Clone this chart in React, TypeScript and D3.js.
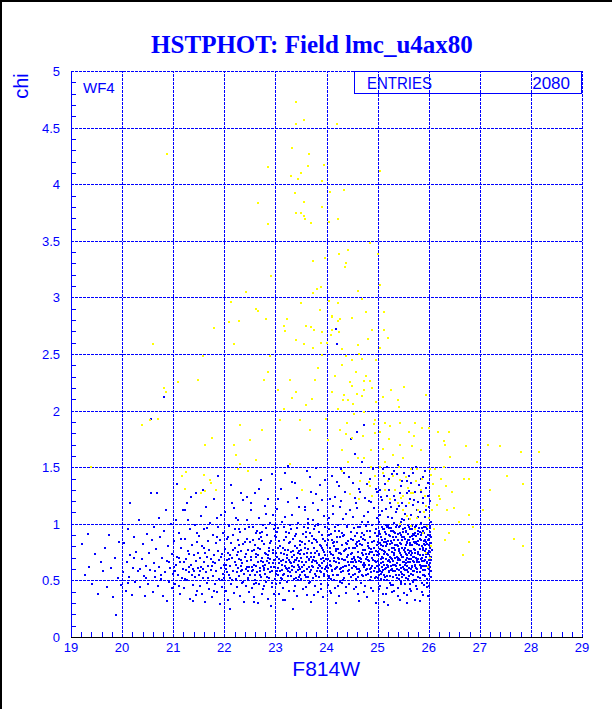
import React from "react";
import * as d3 from "d3";

const WIDTH = 612;
const HEIGHT = 709;
const BLUE = "#0000ff";
const YELLOW = "#ffff00";

const TITLE = "HSTPHOT: Field lmc_u4ax80";
const X_TITLE = "F814W";
const Y_TITLE = "chi";
const X_TICKS = [19, 20, 21, 22, 23, 24, 25, 26, 27, 28, 29];
const Y_TICKS = [0, 0.5, 1, 1.5, 2, 2.5, 3, 3.5, 4, 4.5, 5];
const ENTRIES = "2080";

// blue points (F814W, chi), one array per magnitude band
const blue19 = [19.22,0.82, 19.28,0.55, 19.35,0.62, 19.41,0.47, 19.46,0.73, 19.33,0.91, 19.53,0.38, 19.58,0.66, 19.62,0.58, 19.66,0.79, 19.71,0.44, 19.74,0.90, 19.79,0.61, 19.83,0.35, 19.86,0.70, 19.91,0.52, 19.94,0.84, 19.97,0.46, 19.89,0.19];
const blue20 = [20.02,0.57, 20.04,0.83, 20.07,0.41, 20.09,0.66, 20.11,0.95, 20.14,0.53, 20.16,0.72, 20.19,0.37, 20.21,0.61, 20.24,0.88, 20.26,0.49, 20.28,0.75, 20.31,0.58, 20.33,1.03, 20.36,0.44, 20.38,0.69, 20.40,0.82, 20.42,0.54, 20.44,0.36, 20.46,0.63, 20.48,0.91, 20.12,0.48, 20.23,0.70, 20.35,0.60, 20.47,0.52, 20.15,1.18,
  20.51,0.47, 20.53,0.74, 20.55,0.59, 20.57,1.27, 20.58,0.86, 20.60,0.40, 20.62,0.65, 20.63,0.97, 20.65,0.53, 20.67,0.78, 20.68,1.27, 20.70,0.45, 20.72,0.62, 20.73,1.05, 20.75,0.88, 20.77,0.51, 20.79,0.70, 20.80,0.36, 20.82,0.94, 20.84,0.57, 20.85,1.12, 20.87,0.67, 20.88,0.32, 20.90,0.80, 20.92,0.49, 20.93,0.61, 20.95,1.00, 20.97,0.43, 20.98,0.73, 20.99,0.56, 20.56,1.93, 20.82,2.12, 20.64,0.58, 20.76,0.55, 20.91,0.66];
const blue21 = [21.01,0.62, 21.02,0.85, 21.04,0.47, 21.05,1.03, 21.07,1.35, 21.08,0.71, 21.10,0.55, 21.11,0.92, 21.13,0.38, 21.14,0.66, 21.16,0.79, 21.17,0.52, 21.19,1.12, 21.20,0.60, 21.22,0.43, 21.23,0.87, 21.24,1.12, 21.26,0.69, 21.27,0.50, 21.28,1.03, 21.29,0.76, 21.31,0.57, 21.32,0.95, 21.33,0.34, 21.34,1.24, 21.35,0.64, 21.37,0.81, 21.38,0.46, 21.39,0.32, 21.40,0.72, 21.41,0.58, 21.42,0.99, 21.43,0.53, 21.44,1.27, 21.45,0.67, 21.46,0.41, 21.47,0.84, 21.48,0.61, 21.49,0.74, 21.03,0.58, 21.12,0.70, 21.21,0.66, 21.30,0.62, 21.36,0.55, 21.25,0.59,
  21.50,0.55, 21.51,0.89, 21.52,0.45, 21.53,0.70, 21.54,1.07, 21.55,0.62, 21.56,0.38, 21.57,0.80, 21.58,0.52, 21.60,0.95, 21.61,0.66, 21.62,0.31, 21.63,0.74, 21.64,0.57, 21.65,1.15, 21.66,0.48, 21.68,0.85, 21.69,0.63, 21.70,0.42, 21.71,0.77, 21.72,1.01, 21.73,0.59, 21.74,0.69, 21.76,0.35, 21.77,0.90, 21.78,0.54, 21.79,0.72, 21.80,1.22, 21.81,0.47, 21.82,0.65, 21.83,0.83, 21.84,0.58, 21.85,0.40, 21.87,1.42, 21.87,0.76, 21.88,0.97, 21.89,0.51, 21.90,0.68, 21.91,0.29, 21.92,0.86, 21.93,0.61, 21.94,1.08, 21.95,0.44, 21.96,0.73, 21.97,0.56, 21.98,0.92, 21.99,0.64, 21.59,0.60, 21.67,0.71, 21.75,0.63,
  21.06,0.64, 21.15,0.87, 21.23,0.51, 21.31,0.73, 21.39,0.60, 21.47,0.92, 21.53,0.58, 21.61,0.79, 21.69,0.52, 21.77,0.66, 21.85,0.88, 21.93,0.71, 21.27,1.18, 21.58,1.30, 21.86,1.05, 21.44,0.37, 21.80,0.41, 21.12,0.45, 21.66,0.96, 21.96,0.50];
const blue22 = [22.00,0.52, 22.01,0.78, 22.02,1.10, 22.03,0.60, 22.04,0.41, 22.05,0.87, 22.06,0.68, 22.07,0.33, 22.08,0.74, 22.09,0.55, 22.10,0.98, 22.11,0.25, 22.12,0.63, 22.13,1.34, 22.13,0.83, 22.14,0.47, 22.15,0.70, 22.16,1.18, 22.17,0.58, 22.18,0.90, 22.19,1.14, 22.19,0.39, 22.20,0.66, 22.21,0.79, 22.22,0.51, 22.23,1.05, 22.24,0.72, 22.25,0.44, 22.26,0.61, 22.27,1.03, 22.27,0.86, 22.28,0.54, 22.29,0.69, 22.30,0.36, 22.31,0.93, 22.32,0.58, 22.33,1.27, 22.33,0.76, 22.34,0.48, 22.35,0.65, 22.36,1.21, 22.37,0.82, 22.38,0.56, 22.39,0.31, 22.40,0.71, 22.41,0.95, 22.42,0.60, 22.43,0.45, 22.44,0.87, 22.45,1.03, 22.45,0.67, 22.46,0.52, 22.47,0.77, 22.48,0.40, 22.49,0.62, 22.05,0.57, 22.15,0.50, 22.22,0.64, 22.35,0.59, 22.42,0.73, 22.26,0.75, 22.09,0.69, 22.47,0.58,
  22.50,0.84, 22.51,0.55, 22.52,1.12, 22.53,0.68, 22.54,0.43, 22.55,0.76, 22.56,0.59, 22.57,0.97, 22.58,0.35, 22.59,0.64, 22.60,0.81, 22.61,1.27, 22.61,0.50, 22.62,0.71, 22.63,0.92, 22.64,0.57, 22.65,0.30, 22.66,0.66, 22.67,1.05, 22.68,0.47, 22.69,0.78, 22.70,0.61, 22.71,1.39, 22.71,0.88, 22.72,0.53, 22.73,0.70, 22.74,0.38, 22.75,0.99, 22.76,0.63, 22.77,0.45, 22.78,0.82, 22.79,1.16, 22.80,0.56, 22.81,0.73, 22.82,0.49, 22.83,0.90, 22.84,0.67, 22.85,1.22, 22.85,0.34, 22.86,0.60, 22.87,0.79, 22.88,0.52, 22.89,1.01, 22.90,0.69, 22.91,0.27, 22.92,0.85, 22.93,0.58, 22.94,0.44, 22.95,0.74, 22.96,1.08, 22.97,0.62, 22.98,0.95, 22.99,0.51, 22.55,0.62, 22.60,0.55, 22.65,0.72, 22.70,0.58, 22.75,0.66, 22.80,0.64, 22.85,0.72, 22.90,0.57, 22.95,0.65, 22.58,0.77, 22.68,0.87, 22.78,0.59, 22.88,0.76, 22.98,0.68, 22.63,0.48, 22.73,0.93];
const blue23 = [23.00,0.62, 23.01,0.88, 23.02,0.47, 23.03,1.13, 23.04,0.71, 23.05,0.55, 23.06,0.96, 23.07,0.38, 23.08,0.65, 23.09,0.80, 23.10,1.31, 23.10,0.52, 23.11,0.74, 23.12,0.59, 23.13,1.02, 23.14,0.43, 23.15,0.68, 23.16,0.86, 23.17,0.56, 23.18,1.45, 23.18,0.33, 23.19,0.77, 23.20,0.61, 23.21,0.93, 23.22,0.49, 23.23,0.70, 23.24,1.19, 23.25,0.58, 23.26,0.83, 23.27,0.41, 23.28,0.66, 23.29,0.99, 23.30,0.54, 23.31,0.75, 23.32,1.08, 23.33,0.63, 23.34,0.25, 23.35,0.87, 23.36,0.51, 23.37,0.72, 23.38,1.36, 23.38,0.45, 23.39,0.68, 23.40,0.91, 23.41,0.57, 23.42,1.23, 23.42,0.79, 23.43,0.36, 23.44,0.64, 23.45,1.01, 23.46,0.53, 23.47,0.76, 23.48,0.60, 23.49,0.85, 23.03,0.58, 23.07,0.69, 23.12,0.64, 23.16,0.73, 23.21,0.66, 23.25,0.77, 23.29,0.57, 23.33,0.71, 23.37,0.62, 23.41,0.68, 23.45,0.59, 23.48,0.73, 23.05,0.79, 23.14,0.55, 23.23,0.60, 23.31,0.65, 23.39,0.80, 23.47,0.67, 23.09,0.48, 23.27,0.92, 23.44,0.50,
  23.50,0.70, 23.51,0.51, 23.52,1.30, 23.52,0.84, 23.53,0.62, 23.54,0.42, 23.55,0.97, 23.56,0.73, 23.57,0.55, 23.58,1.12, 23.59,0.66, 23.60,0.88, 23.61,0.37, 23.62,0.60, 23.63,1.04, 23.64,0.78, 23.65,0.48, 23.66,0.69, 23.67,1.41, 23.67,0.92, 23.68,0.57, 23.69,0.74, 23.70,0.31, 23.71,0.83, 23.72,0.63, 23.73,1.18, 23.74,0.52, 23.75,0.71, 23.76,0.95, 23.77,0.45, 23.78,0.67, 23.79,1.26, 23.80,0.86, 23.81,0.58, 23.82,0.76, 23.83,0.40, 23.84,1.00, 23.85,0.64, 23.86,0.53, 23.87,0.81, 23.88,1.34, 23.89,0.69, 23.90,0.47, 23.91,0.90, 23.92,0.61, 23.93,0.35, 23.94,0.77, 23.95,1.07, 23.96,0.56, 23.97,0.72, 23.98,0.85, 23.99,0.62, 23.53,0.66, 23.57,0.79, 23.61,0.71, 23.65,0.62, 23.69,0.59, 23.73,0.68, 23.77,0.74, 23.81,0.65, 23.85,0.73, 23.89,0.57, 23.93,0.70, 23.97,0.60, 23.55,0.58, 23.63,0.53, 23.71,0.66, 23.79,0.54, 23.87,0.63, 23.95,0.67, 23.59,0.93, 23.75,0.87, 23.91,0.79, 23.83,0.99, 23.64,1.01, 23.80,1.49];
const blue24 = [24.00,0.58, 24.01,0.81, 24.02,1.01, 24.02,0.46, 24.03,0.69, 24.04,0.90, 24.05,0.54, 24.06,0.75, 24.07,1.22, 24.08,0.63, 24.09,0.39, 24.10,0.86, 24.11,0.59, 24.12,0.72, 24.13,1.09, 24.14,0.50, 24.15,0.67, 24.16,0.94, 24.17,0.43, 24.18,0.78, 24.19,0.61, 24.20,1.37, 24.20,0.84, 24.21,0.55, 24.22,0.70, 24.23,0.99, 24.24,0.36, 24.25,0.65, 24.26,0.88, 24.27,1.15, 24.28,0.57, 24.29,0.73, 24.30,0.48, 24.31,0.92, 24.32,0.62, 24.33,1.04, 24.34,0.76, 24.35,0.52, 24.36,0.68, 24.37,1.28, 24.38,0.83, 24.39,0.44, 24.40,0.71, 24.41,0.97, 24.42,0.58, 24.43,1.55, 24.44,0.79, 24.45,0.64, 24.46,1.12, 24.47,0.53, 24.48,0.87, 24.49,0.69, 24.03,0.61, 24.06,0.64, 24.09,0.73, 24.12,0.55, 24.15,0.80, 24.18,0.66, 24.21,0.62, 24.24,0.74, 24.27,0.60, 24.30,0.69, 24.33,0.58, 24.36,0.77, 24.39,0.63, 24.42,0.72, 24.45,0.56, 24.48,0.66, 24.05,0.95, 24.14,0.84, 24.23,0.78, 24.32,0.89, 24.41,0.82, 24.08,0.51, 24.26,0.49, 24.44,0.47, 24.19,2.72, 24.20,2.59, 24.35,1.45, 24.11,1.42, 24.29,1.20,
  24.50,0.74, 24.51,0.55, 24.52,1.06, 24.52,0.86, 24.53,0.63, 24.54,0.42, 24.55,0.79, 24.56,0.68, 24.57,1.18, 24.58,0.51, 24.59,0.92, 24.60,1.81, 24.60,0.60, 24.61,0.75, 24.62,0.38, 24.63,0.85, 24.64,1.31, 24.64,0.57, 24.65,0.70, 24.66,0.97, 24.67,0.48, 24.68,0.66, 24.69,1.02, 24.70,0.81, 24.71,0.54, 24.72,0.72, 24.73,1.87, 24.73,0.62, 24.74,0.90, 24.75,0.45, 24.76,1.23, 24.76,0.77, 24.77,0.59, 24.78,0.69, 24.79,0.94, 24.80,0.35, 24.81,0.83, 24.82,1.10, 24.82,0.56, 24.83,0.73, 24.84,0.64, 24.85,0.88, 24.86,1.40, 24.86,0.50, 24.87,0.78, 24.88,0.61, 24.89,0.99, 24.90,0.70, 24.91,0.41, 24.92,0.85, 24.93,1.14, 24.93,0.58, 24.94,0.67, 24.95,0.92, 24.96,0.53, 24.97,0.76, 24.98,1.05, 24.99,0.63, 24.51,0.66, 24.54,0.71, 24.57,0.62, 24.60,0.80, 24.63,0.67, 24.66,0.58, 24.69,0.74, 24.72,0.87, 24.75,0.64, 24.78,0.55, 24.81,0.68, 24.84,0.79, 24.87,0.57, 24.90,0.63, 24.93,0.72, 24.96,0.66, 24.99,0.81, 24.53,0.96, 24.58,0.82, 24.62,0.53, 24.67,0.88, 24.71,0.64, 24.77,0.98, 24.80,0.71, 24.85,0.60, 24.89,0.75, 24.94,0.52, 24.98,0.89, 24.70,1.55, 24.55,1.62, 24.48,1.75, 24.65,1.28, 24.79,1.35, 24.91,1.48, 24.84,1.20];
const blue25 = [25.00,0.67, 25.01,0.84, 25.01,0.52, 25.02,1.02, 25.03,0.73, 25.03,0.60, 25.04,0.91, 25.05,0.45, 25.05,0.78, 25.06,1.24, 25.07,0.65, 25.07,0.56, 25.08,0.86, 25.09,0.71, 25.09,1.11, 25.10,0.59, 25.11,0.38, 25.11,0.80, 25.12,0.95, 25.13,0.64, 25.13,0.50, 25.14,0.75, 25.15,1.35, 25.15,0.87, 25.16,0.61, 25.17,0.69, 25.17,0.99, 25.18,0.54, 25.19,0.82, 25.19,0.43, 25.20,0.72, 25.21,1.06, 25.21,0.63, 25.22,0.90, 25.23,0.57, 25.23,0.77, 25.24,1.18, 25.25,0.66, 25.25,0.48, 25.26,0.85, 25.27,0.70, 25.27,0.94, 25.28,0.60, 25.29,1.44, 25.29,0.79, 25.30,0.53, 25.31,0.88, 25.31,0.67, 25.32,1.01, 25.33,0.74, 25.33,0.41, 25.34,0.58, 25.35,0.92, 25.35,0.81, 25.36,0.63, 25.37,1.13, 25.37,0.71, 25.38,0.52, 25.39,0.86, 25.39,0.36, 25.40,0.68, 25.41,0.97, 25.41,0.76, 25.42,0.59, 25.43,1.27, 25.43,0.83, 25.44,0.64, 25.45,0.47, 25.45,0.90, 25.46,0.72, 25.47,1.04, 25.47,0.56, 25.48,0.79, 25.49,0.66, 25.49,0.95,
  25.02,0.64, 25.04,0.58, 25.06,0.81, 25.08,0.62, 25.10,0.70, 25.12,0.76, 25.14,0.60, 25.16,0.84, 25.18,0.73, 25.20,0.62, 25.22,0.68, 25.24,0.82, 25.26,0.59, 25.28,0.75, 25.30,0.64, 25.32,0.79, 25.34,0.70, 25.36,0.88, 25.38,0.65, 25.40,0.80, 25.42,0.69, 25.44,0.74, 25.46,0.61, 25.48,0.86, 25.03,0.94, 25.08,0.97, 25.14,0.93, 25.20,0.98, 25.26,0.96, 25.32,0.93, 25.38,0.99, 25.44,0.98, 25.06,0.51, 25.12,0.55, 25.18,0.50, 25.24,0.54, 25.30,0.46, 25.36,0.55, 25.42,0.51, 25.48,0.53, 25.05,1.30, 25.22,1.40, 25.34,1.21, 25.46,1.33, 25.10,1.48, 25.27,1.15, 25.40,1.52, 25.12,0.31, 25.28,0.40, 25.44,0.33, 24.98,1.28, 25.18,1.25, 25.32,1.47];
const blue26 = [25.50,0.71, 25.51,0.88, 25.51,0.55, 25.52,1.03, 25.53,0.64, 25.53,0.79, 25.54,0.47, 25.55,0.93, 25.55,0.68, 25.56,1.16, 25.57,0.59, 25.57,0.83, 25.58,0.72, 25.59,0.99, 25.59,0.51, 25.60,0.66, 25.61,1.29, 25.61,0.86, 25.62,0.61, 25.63,0.76, 25.63,0.42, 25.64,0.95, 25.65,0.69, 25.65,0.56, 25.66,1.08, 25.67,0.81, 25.67,0.63, 25.68,0.74, 25.69,0.91, 25.69,0.49, 25.70,0.67, 25.71,1.21, 25.71,0.84, 25.72,0.58, 25.73,0.77, 25.73,0.97, 25.74,0.64, 25.75,0.45, 25.75,0.89, 25.76,0.70, 25.77,1.12, 25.77,0.60, 25.78,0.82, 25.79,0.73, 25.79,0.53, 25.80,0.94, 25.81,0.66, 25.81,1.34, 25.82,0.78, 25.83,0.57, 25.83,0.87, 25.84,0.69, 25.85,1.01, 25.85,0.62, 25.86,0.80, 25.87,0.48, 25.87,0.92, 25.88,0.72, 25.89,1.18, 25.89,0.59, 25.90,0.85, 25.91,0.67, 25.91,0.97, 25.92,0.54, 25.93,0.76, 25.93,1.06, 25.94,0.63, 25.95,0.88, 25.95,0.71, 25.96,0.44, 25.97,0.82, 25.97,0.99, 25.98,0.61, 25.99,0.74, 25.99,1.25, 26.00,0.56, 26.01,0.87, 26.01,0.68, 26.02,0.93, 26.03,0.62, 26.03,0.79, 26.04,1.02, 26.05,0.71, 26.05,0.58,
  25.52,0.60, 25.54,0.75, 25.56,0.65, 25.58,0.84, 25.60,0.77, 25.62,0.69, 25.64,0.81, 25.66,0.72, 25.68,0.62, 25.70,0.87, 25.72,0.66, 25.74,0.83, 25.76,0.61, 25.78,0.68, 25.80,0.75, 25.82,0.64, 25.84,0.90, 25.86,0.70, 25.88,0.79, 25.90,0.63, 25.92,0.81, 25.94,0.73, 25.96,0.66, 25.98,0.86, 26.00,0.76, 26.02,0.65, 26.04,0.83, 25.53,0.96, 25.60,0.91, 25.67,0.98, 25.74,0.92, 25.81,0.96, 25.88,0.94, 25.95,0.97, 26.02,0.98, 25.55,0.52, 25.62,0.54, 25.69,0.55, 25.76,0.50, 25.83,0.52, 25.90,0.55, 25.97,0.51, 26.04,0.53, 25.58,1.38, 25.70,1.45, 25.82,1.10, 25.94,1.32, 25.64,1.22, 25.76,1.50, 25.88,1.41, 26.00,1.15, 25.57,0.37, 25.73,0.33, 25.86,0.40, 25.98,0.36, 25.66,0.41, 25.91,0.46, 25.56,0.73, 25.63,0.88, 25.72,0.71, 25.79,0.85, 25.86,0.63, 25.93,0.86, 26.00,0.64, 26.03,0.90, 25.52,1.45, 25.48,1.18, 25.62,1.42, 25.85,1.28];
// second pass over the crowded band
const blueDenseA = [22.04,0.64, 22.08,0.88, 22.12,0.52, 22.17,0.77, 22.21,0.95, 22.24,0.57, 22.29,0.81, 22.32,0.68, 22.37,0.49, 22.41,0.84, 22.44,0.62, 22.49,0.97, 22.52,0.71, 22.54,0.58, 22.57,0.86, 22.59,0.47, 22.62,0.63, 22.64,0.94, 22.66,0.79, 22.69,0.55, 22.72,0.67, 22.74,0.85, 22.77,0.61, 22.79,0.74, 22.82,0.96, 22.84,0.53, 22.86,0.70, 22.89,0.83, 22.91,0.62, 22.93,0.48, 22.96,0.77, 22.99,0.89, 23.01,0.56, 23.02,0.74, 23.04,0.93, 23.06,0.61, 23.08,0.85, 23.11,0.67, 23.13,0.51, 23.15,0.79, 23.17,0.97, 23.19,0.63, 23.20,0.88, 23.22,0.72, 23.24,0.54, 23.26,0.68, 23.28,0.84, 23.30,0.95, 23.32,0.59, 23.34,0.76, 23.36,0.66, 23.38,0.89, 23.40,0.52, 23.42,0.70, 23.43,0.96, 23.46,0.62, 23.48,0.81, 23.49,0.55, 22.53,1.18, 22.67,1.31, 22.81,1.09, 22.94,1.44, 23.06,1.22, 23.19,1.06, 23.33,1.37, 23.46,1.15, 23.24,1.51, 22.44,1.24, 22.76,0.42, 22.97,0.38, 23.14,0.33, 23.37,0.41, 22.58,0.31, 22.28,0.95, 22.33,0.63, 22.11,0.72, 22.46,0.50, 22.70,0.92, 23.09,0.58, 23.27,0.61, 23.44,0.74, 22.87,0.65, 23.00,0.99, 22.63,0.73];
const blueDenseB = [23.51,0.77, 23.53,0.57, 23.54,0.91, 23.56,0.64, 23.58,0.82, 23.60,0.53, 23.62,0.74, 23.63,0.96, 23.65,0.68, 23.66,0.85, 23.68,0.49, 23.70,0.71, 23.72,0.89, 23.74,0.62, 23.75,0.79, 23.77,0.56, 23.78,0.98, 23.80,0.67, 23.82,0.84, 23.83,0.61, 23.85,0.93, 23.86,0.72, 23.88,0.58, 23.90,0.80, 23.91,0.65, 23.93,0.87, 23.95,0.54, 23.96,0.75, 23.98,0.97, 23.99,0.69, 24.01,0.63, 24.03,0.86, 24.04,0.52, 24.06,0.79, 24.07,0.67, 24.09,0.91, 24.11,0.58, 24.12,0.83, 24.14,0.70, 24.16,0.97, 24.17,0.60, 24.19,0.76, 24.21,0.88, 24.22,0.55, 24.24,0.69, 24.25,0.94, 24.27,0.74, 24.29,0.61, 24.31,0.81, 24.32,0.50, 24.34,0.68, 24.35,0.90, 24.37,0.63, 24.39,0.78, 24.40,0.98, 24.42,0.66, 24.43,0.85, 24.45,0.59, 24.47,0.73, 24.48,0.93, 24.50,0.61, 24.52,0.79, 24.53,0.70, 24.55,0.89, 24.56,0.56, 24.58,0.66, 24.59,0.84, 24.61,0.97, 24.62,0.71, 24.64,0.60, 24.66,0.82, 24.67,0.69, 24.69,0.92, 24.70,0.55, 24.72,0.77, 24.74,0.65, 24.75,0.86, 24.77,0.73, 24.78,0.99, 24.80,0.60, 24.82,0.80, 24.83,0.67, 24.85,0.94, 24.86,0.75, 24.88,0.53, 24.90,0.84, 24.91,0.68, 24.93,0.79, 24.95,0.61, 24.96,0.95, 24.98,0.72, 24.99,0.57,
  23.57,1.15, 23.69,1.28, 23.84,1.12, 23.97,1.39, 24.04,1.05, 24.17,1.24, 24.28,1.48, 24.38,1.09, 24.51,1.36, 24.59,1.14, 24.68,1.45, 24.74,1.07, 24.88,1.19, 24.96,1.31, 23.62,1.47, 23.92,1.21, 24.24,1.33, 24.56,1.23, 24.81,1.02, 23.74,1.03, 24.45,1.41, 24.13,1.16,
  23.59,0.44, 23.76,0.37, 23.89,0.42, 24.06,0.41, 24.22,0.45, 24.38,0.39, 24.57,0.44, 24.73,0.40, 24.87,0.43, 24.97,0.30, 24.63,0.32, 24.18,0.30];
const blueDenseC = [25.01,0.75, 25.02,0.92, 25.03,0.55, 25.04,0.83, 25.06,0.69, 25.07,0.88, 25.08,0.57, 25.09,0.77, 25.10,0.95, 25.11,0.66, 25.12,0.84, 25.13,0.73, 25.15,0.53, 25.16,0.91, 25.17,0.80, 25.18,0.64, 25.19,0.97, 25.20,0.67, 25.21,0.85, 25.22,0.58, 25.23,0.96, 25.24,0.71, 25.25,0.89, 25.26,0.63, 25.28,0.83, 25.29,0.69, 25.30,0.94, 25.31,0.58, 25.32,0.72, 25.33,0.86, 25.34,0.64, 25.35,0.77, 25.36,0.97, 25.37,0.60, 25.38,0.81, 25.39,0.70, 25.40,0.91, 25.41,0.55, 25.42,0.78, 25.43,0.92, 25.44,0.68, 25.45,0.82, 25.46,0.57, 25.47,0.88, 25.48,0.71, 25.49,0.62, 25.50,0.93, 25.51,0.77, 25.52,0.66, 25.53,0.87, 25.54,0.59, 25.55,0.81, 25.56,0.94, 25.57,0.70, 25.58,0.63, 25.59,0.86, 25.60,0.57, 25.61,0.74, 25.62,0.97, 25.63,0.66, 25.64,0.83, 25.65,0.76, 25.66,0.60, 25.67,0.89, 25.68,0.95, 25.69,0.71, 25.70,0.58, 25.71,0.78, 25.72,0.90, 25.73,0.63, 25.74,0.74, 25.75,0.98, 25.76,0.84, 25.77,0.66, 25.78,0.57, 25.79,0.91, 25.80,0.69, 25.81,0.81, 25.82,0.93, 25.83,0.72, 25.84,0.61, 25.85,0.86, 25.86,0.96, 25.87,0.67, 25.88,0.55, 25.89,0.77, 25.90,0.92, 25.91,0.82, 25.92,0.68, 25.93,0.59, 25.94,0.84, 25.95,0.78, 25.96,0.95, 25.97,0.65, 25.98,0.73, 25.99,0.90, 26.00,0.81, 26.01,0.60, 26.02,0.75, 26.03,0.96, 26.04,0.68, 26.05,0.88, 26.06,0.77,
  25.04,1.08, 25.09,1.21, 25.13,1.42, 25.17,1.13, 25.23,1.30, 25.28,1.05, 25.33,1.25, 25.38,1.44, 25.42,1.16, 25.47,1.38, 25.53,1.09, 25.57,1.27, 25.61,1.04, 25.66,1.36, 25.70,1.17, 25.74,1.28, 25.79,1.06, 25.84,1.40, 25.89,1.23, 25.94,1.12, 25.99,1.36, 26.03,1.20, 25.19,1.50, 25.45,1.02, 25.68,1.48, 25.92,1.47, 25.36,1.10, 25.80,1.19,
  25.03,0.42, 25.16,0.38, 25.27,0.46, 25.39,0.43, 25.51,0.39, 25.64,0.47, 25.77,0.42, 25.89,0.37, 26.01,0.45, 25.21,0.28, 25.58,0.30, 25.83,0.32, 25.46,0.49, 25.71,0.50, 25.96,0.48];

// yellow points
const yellowHigh = [23.40,4.73, 23.55,4.57, 23.40,4.53, 24.20,4.53, 20.87,4.27, 23.32,4.32, 23.65,4.27, 23.64,4.16, 23.95,4.17, 22.86,4.15, 23.51,4.10, 23.31,4.07, 23.44,4.05, 23.92,4.03, 24.07,3.93, 24.34,3.95, 23.38,3.92, 22.66,3.83, 23.55,3.84, 23.92,3.80, 23.40,3.75, 23.51,3.75, 23.56,3.72, 23.57,3.69, 24.22,3.69, 23.69,3.66, 24.04,3.67, 22.86,3.65, 24.43,3.42, 24.24,3.38, 23.97,3.35, 23.73,3.32, 24.36,3.27, 22.91,3.19, 23.89,3.09, 23.81,3.07, 23.74,3.04, 22.42,3.05, 24.04,2.97, 22.13,2.96, 23.51,2.95, 24.22,2.95, 22.62,2.90, 22.66,2.88, 23.87,2.89, 24.11,2.84, 24.11,2.83, 22.09,2.78, 22.28,2.79, 22.82,2.81, 23.23,2.81, 24.26,2.81, 23.17,2.75, 23.60,2.75, 23.69,2.74, 24.22,2.79, 21.80,2.73, 23.18,2.70, 23.76,2.71, 23.92,2.69, 24.11,2.71, 24.08,2.67, 24.25,2.69, 23.40,2.62, 23.56,2.59, 22.19,2.59, 23.73,2.55, 23.89,2.60, 24.00,2.60, 24.31,2.54, 20.60,2.59,
  25.05,4.12, 25.01,3.38, 24.85,3.48, 24.38,3.30, 25.05,3.11, 24.62,3.06, 24.77,2.87, 25.13,2.87, 24.50,2.82, 24.70,2.99, 24.81,2.63, 24.89,2.71, 25.05,2.55, 25.13,2.71, 25.20,2.64, 24.62,2.58];
const yellowMid = [24.50,2.22, 24.73,2.26, 24.86,2.26, 24.73,2.18, 24.59,2.15, 24.69,2.13, 24.42,2.09, 24.52,2.06, 24.32,2.09, 25.26,2.18, 25.52,2.21, 25.11,2.12, 25.39,2.09, 25.42,2.03, 25.95,2.14, 24.54,1.97, 24.40,1.89, 24.38,1.79, 24.49,1.76, 24.71,1.78, 24.94,1.92, 24.92,1.88, 25.15,1.89, 25.24,1.86, 25.44,1.89, 25.73,1.89, 25.87,1.85, 26.00,1.85, 25.05,1.81, 24.94,1.80, 25.61,1.81, 25.71,1.78, 26.18,1.81, 26.39,1.81, 26.29,1.73, 26.32,1.70, 25.22,1.75, 25.44,1.70, 25.10,1.66, 24.88,1.65, 24.30,1.65, 25.67,1.69, 25.84,1.65, 26.73,1.69, 27.17,1.70, 27.40,1.69, 27.80,1.63, 28.16,1.63, 26.42,1.59, 26.94,1.55, 24.62,1.58, 24.73,1.58, 25.30,1.61, 25.50,1.58, 25.15,1.55,
  20.39,1.87, 20.55,1.92, 20.70,1.93, 20.86,2.16, 20.82,2.20, 21.09,2.25, 21.49,2.27, 21.58,2.48, 21.62,1.70, 21.76,1.76, 22.19,1.70, 22.23,1.61, 22.31,1.87, 22.50,1.74, 22.74,1.83, 22.78,2.27, 22.86,2.34, 22.89,2.48, 23.05,2.18, 23.09,1.92, 23.17,2.01, 23.29,2.27, 23.33,2.11, 23.40,2.16, 23.48,1.92, 23.60,2.05, 23.68,1.83, 23.72,2.10, 23.78,2.27, 23.83,2.38, 23.91,2.49, 23.99,1.93, 24.03,1.74, 24.11,2.16, 24.17,2.31, 24.22,2.01, 24.26,1.83, 24.30,2.40, 24.34,2.14, 24.38,2.48, 24.46,2.25, 24.50,2.45, 24.58,2.34, 24.64,2.50, 24.70,2.46, 24.77,2.31, 24.97,2.45, 24.89,2.20, 24.73,1.99, 24.97,2.08, 23.29,1.53, 24.43,1.55, 22.63,1.56, 22.31,1.53];
const yellowLow = [19.40,1.50, 21.17,1.42, 21.26,1.46, 21.60,1.43, 21.73,1.36, 21.23,1.31, 21.62,1.29, 21.54,1.27, 22.27,1.48, 22.46,1.47, 21.72,1.39, 21.84,1.30,
  24.88,1.50, 25.05,1.50, 25.41,1.50, 25.65,1.48, 25.78,1.48, 26.03,1.48, 26.12,1.48, 26.29,1.50, 26.05,1.43, 25.87,1.40, 26.69,1.40, 26.78,1.40, 27.54,1.42, 27.85,1.35, 26.09,1.35, 26.34,1.33, 25.44,1.39, 24.66,1.38, 24.83,1.37, 24.46,1.26, 24.89,1.25, 25.46,1.23, 25.65,1.27, 26.20,1.25, 26.22,1.22, 26.16,1.17, 26.50,1.14, 26.35,1.12, 27.06,1.12, 26.78,1.08, 25.80,1.12, 25.95,1.16, 25.57,1.07, 25.63,1.04, 25.44,1.00, 25.97,0.98, 25.74,0.95, 26.87,0.97, 27.66,0.87, 27.85,0.80, 26.78,0.84, 26.67,0.72, 26.32,0.86, 24.30,1.47, 23.52,1.30, 24.63,1.22,
  25.10,1.45, 25.20,1.38, 25.30,1.42, 25.35,1.30, 25.50,1.25, 25.55,1.41, 25.60,1.32, 25.62,1.18, 25.70,1.27, 25.75,1.38, 25.85,1.30, 25.90,1.10, 25.92,1.25, 26.00,1.05, 25.88,0.92, 25.78,1.05, 25.66,0.98, 25.50,1.12, 25.40,1.18, 25.25,1.22, 25.15,1.30, 24.95,1.42, 24.85,1.33, 26.10,0.95, 26.05,0.80, 26.02,0.70, 25.98,0.62, 26.06,1.12, 26.25,1.40, 26.45,1.28, 26.60,1.02, 26.40,0.92, 27.20,1.30, 25.95,0.74];

const toPoints = (a: number[]) =>
  d3.range(0, a.length - 1, 2).map((i) => [a[i], a[i + 1]]);

const bluePoints = [blue19, blue20, blue21, blue22, blue23, blue24, blue25, blue26, blueDenseA, blueDenseB, blueDenseC].flatMap(toPoints);
const yellowPoints = [yellowHigh, yellowMid, yellowLow].flatMap(toPoints);

export default function App() {
  const x = d3.scaleLinear().domain([19, 29]).range([71, 582]);
  const y = d3.scaleLinear().domain([0, 5]).range([637, 71]);

  const xMinor = d3.range(19.2, 29, 0.2).filter((v) => Math.abs(v - Math.round(v)) > 0.05);
  const yMinor = d3.range(0.1, 5, 0.1).filter((v) => Math.abs(v * 2 - Math.round(v * 2)) > 0.05);
  const font = "'Liberation Sans', Arial, sans-serif";

  return (
    <svg
      width={WIDTH}
      height={HEIGHT}
      style={{ position: "absolute", left: 0, top: 0, background: "#fff" }}
    >
      <rect width={WIDTH} height={HEIGHT} fill="#fff" />
      <line x1={0} x2={WIDTH} y1={1} y2={1} stroke="#000" strokeWidth={2} />
      <line x1={1} x2={1} y1={0} y2={HEIGHT} stroke="#000" strokeWidth={2} />

      <text
        x={312}
        y={53}
        textAnchor="middle"
        fontFamily="'Liberation Serif', 'Times New Roman', serif"
        fontWeight="bold"
        fontSize={25}
        fill={BLUE}
      >
        {TITLE}
      </text>

      {/* grid */}
      <g stroke={BLUE} strokeWidth={1} strokeDasharray="3,1" shapeRendering="crispEdges">
        {X_TICKS.slice(1).map((t) => (
          <line key={"gx" + t} x1={Math.round(x(t)) + 0.5} x2={Math.round(x(t)) + 0.5} y1={y(0)} y2={y(5)} />
        ))}
        {Y_TICKS.slice(1).map((t) => (
          <line key={"gy" + t} x1={x(19)} x2={x(29)} y1={Math.round(y(t)) + 0.5} y2={Math.round(y(t)) + 0.5} />
        ))}
      </g>

      {/* points */}
      <g fill={BLUE} shapeRendering="crispEdges">
        {bluePoints.map((p, i) => (
          <rect key={"b" + i} x={Math.round(x(p[0])) - 1} y={Math.round(y(p[1])) - 1} width={2} height={2} />
        ))}
      </g>
      <g fill={YELLOW} shapeRendering="crispEdges">
        {yellowPoints.map((p, i) => (
          <rect key={"y" + i} x={Math.round(x(p[0])) - 1} y={Math.round(y(p[1])) - 1} width={2} height={2} />
        ))}
      </g>

      {/* axes */}
      <g shapeRendering="crispEdges">
        <line x1={x(19) + 0.5} x2={x(19) + 0.5} y1={y(0)} y2={y(5)} stroke={BLUE} />
        <line x1={x(19)} x2={x(29) + 1} y1={y(0) + 0.5} y2={y(0) + 0.5} stroke="#000" />
        {xMinor.map((t, i) => (
          <line key={"xm" + i} x1={Math.round(x(t)) + 0.5} x2={Math.round(x(t)) + 0.5} y1={y(0)} y2={y(0) - 5} stroke={BLUE} />
        ))}
        {yMinor.map((t, i) => (
          <line key={"ym" + i} x1={x(19)} x2={x(19) + 5} y1={Math.round(y(t)) + 0.5} y2={Math.round(y(t)) + 0.5} stroke={BLUE} />
        ))}
      </g>

      {/* tick labels */}
      <g fontFamily={font} fontSize={13} fill={BLUE}>
        {X_TICKS.map((t) => (
          <text key={"xl" + t} x={x(t)} y={652} textAnchor="middle">
            {t}
          </text>
        ))}
        {Y_TICKS.map((t) => (
          <text key={"yl" + t} x={60} y={y(t) + 5} textAnchor="end">
            {t}
          </text>
        ))}
      </g>

      <text x={360} y={676} textAnchor="end" fontFamily={font} fontSize={21} fill={BLUE}>
        {X_TITLE}
      </text>
      <text transform="translate(28,86) rotate(-90)" textAnchor="middle" fontFamily={font} fontSize={20} fill={BLUE}>
        {Y_TITLE}
      </text>

      <text x={83} y={93} fontFamily={font} fontSize={15} fill={BLUE}>
        WF4
      </text>

      {/* stats box */}
      <rect x={354.5} y={71.5} width={227} height={22} fill="none" stroke={BLUE} shapeRendering="crispEdges" />
      <text x={367} y={89} fontFamily={font} fontSize={17} fill={BLUE} textLength={65} lengthAdjust="spacingAndGlyphs">
        ENTRIES
      </text>
      <text x={570} y={89} textAnchor="end" fontFamily={font} fontSize={17} fill={BLUE}>
        {ENTRIES}
      </text>
    </svg>
  );
}
